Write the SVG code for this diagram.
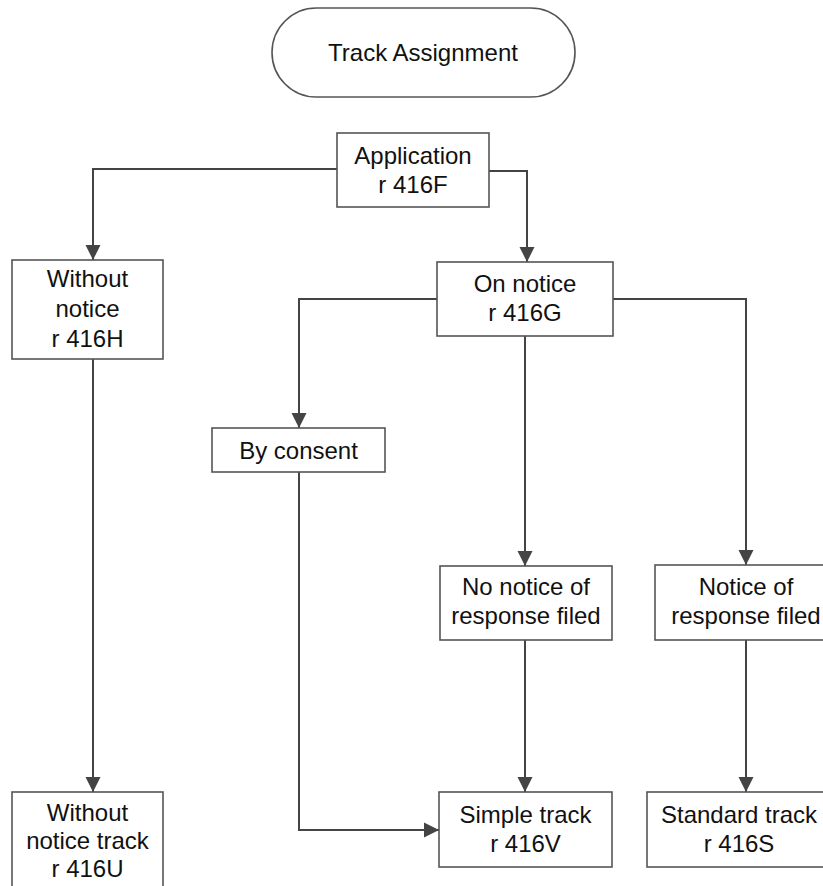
<svg xmlns="http://www.w3.org/2000/svg" width="823" height="886" viewBox="0 0 823 886">
<style>
.box{fill:#fff;stroke:#555;stroke-width:1.6}
.t{font-family:"Liberation Sans",Arial,sans-serif;font-size:24px;fill:#111;text-anchor:middle}
.c{fill:none;stroke:#444;stroke-width:2}
</style>
<defs>
<marker id="ah" markerUnits="userSpaceOnUse" markerWidth="16" markerHeight="16" refX="15" refY="7.5" orient="auto" viewBox="0 0 16 15">
<path d="M0,0 L15,7.5 L0,15 z" fill="#444"/>
</marker>
</defs>
<rect width="823" height="886" fill="#fff"/>
<g id="connectors">
<path class="c" d="M337,169 H93 V260" marker-end="url(#ah)"/>
<path class="c" d="M489,171 H527 V262" marker-end="url(#ah)"/>
<path class="c" d="M437,299 H299 V428" marker-end="url(#ah)"/>
<path class="c" d="M613,299 H746 V565" marker-end="url(#ah)"/>
<path class="c" d="M525,336 V566" marker-end="url(#ah)"/>
<path class="c" d="M525,640 V792" marker-end="url(#ah)"/>
<path class="c" d="M746,640 V792" marker-end="url(#ah)"/>
<path class="c" d="M93,359 V792" marker-end="url(#ah)"/>
<path class="c" d="M299,472 V830 H439" marker-end="url(#ah)"/>
</g>
<g id="n_track_assignment">
<rect class="box" x="272" y="8" width="303" height="89" rx="44.5"/>
<text class="t" x="423" y="61">Track Assignment</text>
</g>
<g id="n_application">
<rect class="box" x="337" y="133" width="152" height="74"/>
<text class="t" x="413" y="164">Application</text>
<text class="t" x="413" y="193">r 416F</text>
</g>
<g id="n_without_notice">
<rect class="box" x="12" y="260" width="151" height="99"/>
<text class="t" x="87.5" y="287">Without</text>
<text class="t" x="87.5" y="317">notice</text>
<text class="t" x="87.5" y="347">r 416H</text>
</g>
<g id="n_on_notice">
<rect class="box" x="437" y="262" width="176" height="74"/>
<text class="t" x="525" y="292">On notice</text>
<text class="t" x="525" y="321">r 416G</text>
</g>
<g id="n_by_consent">
<rect class="box" x="212" y="428" width="173" height="44"/>
<text class="t" x="298.5" y="459">By consent</text>
</g>
<g id="n_no_notice_response">
<rect class="box" x="440" y="566" width="172" height="74"/>
<text class="t" x="526" y="595">No notice of</text>
<text class="t" x="526" y="624">response filed</text>
</g>
<g id="n_notice_response">
<rect class="box" x="655" y="565" width="182" height="75"/>
<text class="t" x="746" y="595">Notice of</text>
<text class="t" x="746" y="624">response filed</text>
</g>
<g id="n_without_notice_track">
<rect class="box" x="12" y="792" width="151" height="100"/>
<text class="t" x="87.5" y="821">Without</text>
<text class="t" x="87.5" y="849">notice track</text>
<text class="t" x="87.5" y="877">r 416U</text>
</g>
<g id="n_simple_track">
<rect class="box" x="439" y="792" width="173" height="75"/>
<text class="t" x="525.5" y="823">Simple track</text>
<text class="t" x="525.5" y="852">r 416V</text>
</g>
<g id="n_standard_track">
<rect class="box" x="647" y="792" width="184" height="75"/>
<text class="t" x="739" y="823">Standard track</text>
<text class="t" x="739" y="852">r 416S</text>
</g>
</svg>
